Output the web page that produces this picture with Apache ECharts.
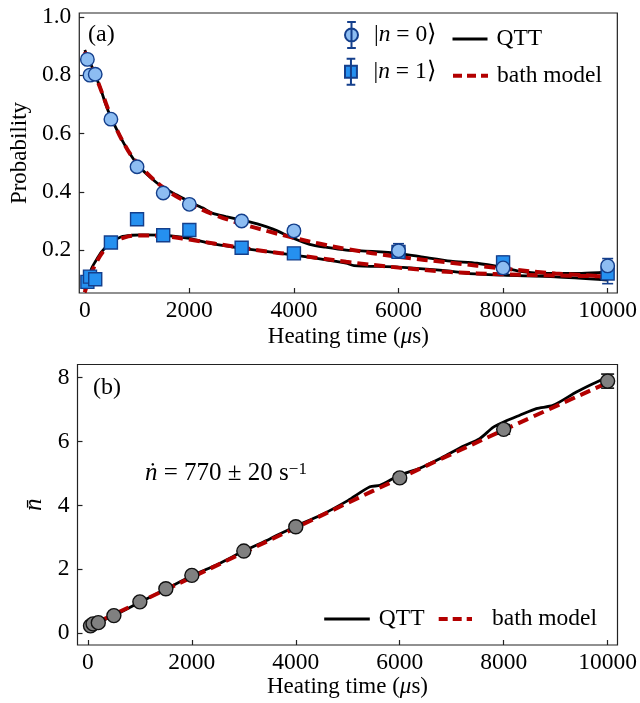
<!DOCTYPE html>
<html>
<head>
<meta charset="utf-8">
<script src="https://cdn.jsdelivr.net/npm/echarts@6/dist/echarts.min.js"></script>
<style>
  html, body { margin: 0; padding: 0; background: #fff; }
  #main { width: 640px; height: 703px; }
</style>
</head>
<body>
<div id="main"></div>
<script>
// panel (a): measured populations
var timeA = [50, 100, 200, 500, 1000, 1500, 2000, 3000, 4000, 6000, 8000, 10000];
var p0 = [0.854, 0.800, 0.803, 0.649, 0.486, 0.396, 0.357, 0.300, 0.266, 0.198, 0.139, 0.146];
var p0err = [0.012, 0.012, 0.012, 0.012, 0.012, 0.012, 0.014, 0.012, 0.016, 0.024, 0.02, 0.025];
var p1 = [0.091, 0.109, 0.100, 0.226, 0.306, 0.251, 0.269, 0.208, 0.189, 0.194, 0.158, 0.120];
var p1err = [0.012, 0.012, 0.012, 0.012, 0.012, 0.012, 0.014, 0.012, 0.012, 0.02, 0.021, 0.035];

// panel (a): model curves
var qtt0T = [0, 100, 200, 300, 400, 500, 750, 1000, 1250, 1500, 1750, 2000, 2250, 2450, 2700, 3000, 3300, 3600, 4000, 4300, 4600, 5000, 5500, 6000, 6500, 7000, 7500, 8000, 8300, 8600, 9000, 9500, 10000];
var qtt0 = [0.886, 0.845, 0.800, 0.755, 0.700, 0.655, 0.565, 0.495, 0.450, 0.415, 0.390, 0.366, 0.345, 0.326, 0.315, 0.303, 0.290, 0.272, 0.240, 0.220, 0.210, 0.200, 0.196, 0.189, 0.175, 0.162, 0.155, 0.140, 0.128, 0.122, 0.120, 0.120, 0.125];
var bath0T = [0, 100, 200, 350, 500, 750, 1000, 1500, 2000, 2500, 3000, 3500, 4000, 4500, 5000, 6000, 7000, 8000, 9000, 10000];
var bath0 = [0.880, 0.840, 0.800, 0.730, 0.660, 0.565, 0.500, 0.415, 0.360, 0.320, 0.290, 0.265, 0.242, 0.222, 0.204, 0.177, 0.157, 0.137, 0.120, 0.110];
var qtt1T = [0, 50, 130, 200, 320, 500, 700, 900, 1100, 1500, 2000, 2400, 2900, 3500, 4000, 4500, 5000, 5150, 6000, 7000, 7300, 8000, 9000, 10000];
var qtt1 = [0.063, 0.090, 0.137, 0.160, 0.194, 0.226, 0.246, 0.251, 0.252, 0.251, 0.240, 0.223, 0.209, 0.195, 0.183, 0.170, 0.155, 0.147, 0.142, 0.128, 0.120, 0.114, 0.108, 0.097];
var bath1T = [0, 100, 200, 350, 500, 750, 1000, 1500, 2000, 2500, 3000, 3500, 4000, 4500, 5000, 6000, 7000, 8000, 9000, 10000];
var bath1 = [0.055, 0.110, 0.150, 0.195, 0.222, 0.243, 0.250, 0.248, 0.236, 0.222, 0.208, 0.195, 0.184, 0.172, 0.160, 0.140, 0.125, 0.117, 0.113, 0.110];

// panel (b): mean phonon number
var timeB = [50, 100, 200, 500, 1000, 1500, 2000, 3000, 4000, 6000, 8000, 10000];
var nbar = [0.23, 0.29, 0.33, 0.55, 0.98, 1.39, 1.81, 2.57, 3.33, 4.86, 6.38, 7.89];
var nbarErr = [0.04, 0.04, 0.04, 0.04, 0.04, 0.04, 0.05, 0.05, 0.06, 0.12, 0.15, 0.22];
var qttBT = [0, 250, 500, 1000, 1500, 2000, 2500, 3000, 3500, 4000, 4466, 5000, 5427, 5619, 6000, 6386, 6642, 6899, 7219, 7539, 7795, 8000, 8309, 8629, 8950, 9399, 9718, 10000];
var qttB = [0.20, 0.37, 0.55, 0.97, 1.38, 1.80, 2.16, 2.57, 2.95, 3.35, 3.68, 4.15, 4.58, 4.63, 4.95, 5.16, 5.36, 5.57, 5.85, 6.09, 6.44, 6.61, 6.82, 7.03, 7.13, 7.55, 7.81, 8.02];
var bathBT = [0, 2000, 4000, 6000, 8000, 10000];
var bathB = [0.20, 1.75, 3.30, 4.85, 6.36, 7.84];

var xTicks = [0, 2000, 4000, 6000, 8000, 10000];
var yTicksA = [0.2, 0.4, 0.6, 0.8, 1.0];
var yTicksB = [0, 2, 4, 6, 8];

var FONT = 'Liberation Serif';
var RED = '#b30000';
var C0 = '#8dbdf2', C1 = '#2590f0', EDGE = '#143f8c';
var DASH = [11, 6];

function pairs(xs, ys) { return xs.map(function (x, i) { return [x, ys[i]]; }); }
function bars(xs, ys, es) { return xs.map(function (x, i) { return [x, ys[i] - es[i], ys[i] + es[i]]; }); }

function errRender(color, cap) {
  return function (params, api) {
    var a = api.coord([api.value(0), api.value(1)]);
    var b = api.coord([api.value(0), api.value(2)]);
    var st = { stroke: color, lineWidth: 1.6 };
    return { type: 'group', children: [
      { type: 'line', shape: { x1: a[0], y1: a[1], x2: b[0], y2: b[1] }, style: st },
      { type: 'line', shape: { x1: a[0] - cap, y1: a[1], x2: a[0] + cap, y2: a[1] }, style: st },
      { type: 'line', shape: { x1: b[0] - cap, y1: b[1], x2: b[0] + cap, y2: b[1] }, style: st }
    ] };
  };
}

function xAx(idx, min, max, gap) {
  return {
    type: 'value', gridIndex: idx, min: min, max: max,
    name: 'Heating time ({i|μ}s)', nameLocation: 'middle', nameGap: gap,
    nameTextStyle: { fontFamily: FONT, fontSize: 23, color: '#000', rich: { i: { fontFamily: FONT, fontSize: 23, fontStyle: 'italic', color: '#000' } } },
    axisLine: { show: false, onZero: false }, splitLine: { show: false },
    axisTick: { inside: true, length: 5, customValues: xTicks, lineStyle: { color: '#222', width: 1.2 } },
    axisLabel: { customValues: xTicks, margin: 6, fontFamily: FONT, fontSize: 23.5, color: '#000',
      formatter: function (v) { return String(v); } }
  };
}

var legText = { fontFamily: FONT, fontSize: 23.5, color: '#000', rich: { i: { fontFamily: FONT, fontSize: 23.5, fontStyle: 'italic', color: '#000' } } };
var errIcon = 'path://M5,0V24M1,0H9M1,24H9M5,6A6,6,0,1,1,5,18A6,6,0,1,1,5,6Z';
var errSq = 'path://M5,0V24M1,0H9M1,24H9M-0.5,6.5H10.5V17.5H-0.5Z';

function legend(name, left, top, w, h, pad, icon, line) {
  var l = {
    data: [name], left: left, top: top, itemWidth: w, itemHeight: h, padding: 0,
    selectedMode: false, textStyle: Object.assign({ padding: [0, 0, 0, pad] }, legText),
    formatter: function (n) {
      if (n === 'n0') return '|{i|n} = 0⟩';
      if (n === 'n1') return '|{i|n} = 1⟩';
      return n;
    }
  };
  if (icon) l.icon = icon;
  else { l.itemStyle = { opacity: 0 }; l.lineStyle = line; }
  return l;
}

var qttLeg = { width: 3, color: '#000', type: 'solid' };
var bathLeg = { width: 4, color: RED, type: [9, 5] };

var chart = echarts.init(document.getElementById('main'));
chart.setOption({
  animation: false,
  grid: [
    { left: 77.5, top: 13, width: 540.5, height: 280, show: true, borderColor: '#222', borderWidth: 1.2 },
    { left: 77.5, top: 364.5, width: 540.5, height: 280.5, show: true, borderColor: '#222', borderWidth: 1.2 }
  ],
  xAxis: [xAx(0, -105, 10185, 32), xAx(1, -200, 10190, 29)],
  yAxis: [
    {
      type: 'value', gridIndex: 0, min: 0.053, max: 1.013,
      name: 'Probability', nameLocation: 'middle', nameGap: 39, nameRotate: 90,
      nameTextStyle: { fontFamily: FONT, fontSize: 23, color: '#000' },
      axisLine: { show: false, onZero: false }, splitLine: { show: false },
      axisTick: { inside: true, length: 5, customValues: yTicksA, lineStyle: { color: '#222', width: 1.2 } },
      axisLabel: { customValues: yTicksA, margin: 8, fontFamily: FONT, fontSize: 23.5, color: '#000',
        formatter: function (v) { return v.toFixed(1); } }
    },
    {
      type: 'value', gridIndex: 1, min: -0.37, max: 8.41,
      name: 'n\u0304', nameLocation: 'middle', nameGap: 26, nameRotate: 90,
      nameTextStyle: { fontFamily: FONT, fontSize: 25, fontStyle: 'italic', color: '#000' },
      axisLine: { show: false, onZero: false }, splitLine: { show: false },
      axisTick: { inside: true, length: 5, customValues: yTicksB, lineStyle: { color: '#222', width: 1.2 } },
      axisLabel: { customValues: yTicksB, margin: 8, fontFamily: FONT, fontSize: 23.5, color: '#000' }
    }
  ],
  legend: [
    legend('n0', 344, 21, 13, 26, 11, errIcon),
    legend('n1', 344, 57.7, 13, 26, 11, errSq),
    legend('QTT', 451, 27, 35, 14, 4, null, qttLeg),
    legend('bath model', 451, 63.7, 35, 14, 4, null, bathLeg),
    legend('QTT', 322.7, 607, 45.6, 14, 4, null, qttLeg),
    legend('bath model', 436.7, 607, 33.3, 14, 15, null, bathLeg)
  ],
  graphic: [
    { type: 'text', left: 88, top: 23, style: { text: '(a)', fontFamily: FONT, fontSize: 24, fill: '#000' } },
    { type: 'text', left: 93, top: 376, style: { text: '(b)', fontFamily: FONT, fontSize: 24, fill: '#000' } },
    { type: 'text', left: 145, top: 461, style: {
      text: '{i|ṅ}{r| = 770 ± 20 s}{s|−1}', fill: '#000',
      rich: {
        i: { fontFamily: FONT, fontSize: 25, fontStyle: 'italic' },
        r: { fontFamily: FONT, fontSize: 25 },
        s: { fontFamily: FONT, fontSize: 17, verticalAlign: 'top' }
      } } }
  ],
  series: [
    { name: 'QTT', type: 'line', xAxisIndex: 0, yAxisIndex: 0, data: pairs(qtt0T, qtt0), symbol: 'none', smooth: 0.25,
      lineStyle: { color: '#000', width: 2.8 }, itemStyle: { color: '#000' }, z: 2 },
    { name: 'QTT', type: 'line', xAxisIndex: 0, yAxisIndex: 0, data: pairs(qtt1T, qtt1), symbol: 'none', smooth: 0.25,
      lineStyle: { color: '#000', width: 2.8 }, itemStyle: { color: '#000' }, z: 2 },
    { name: 'bath model', type: 'line', xAxisIndex: 0, yAxisIndex: 0, data: pairs(bath0T, bath0), symbol: 'none', smooth: 0.4,
      lineStyle: { color: RED, width: 4, type: DASH }, itemStyle: { color: RED }, z: 3 },
    { name: 'bath model', type: 'line', xAxisIndex: 0, yAxisIndex: 0, data: pairs(bath1T, bath1), symbol: 'none', smooth: 0.4,
      lineStyle: { color: RED, width: 4, type: DASH }, itemStyle: { color: RED }, z: 3 },
    { type: 'custom', xAxisIndex: 0, yAxisIndex: 0, data: bars(timeA, p0, p0err), renderItem: errRender(EDGE, 5.5),
      encode: { x: 0, y: [1, 2] }, z: 4, silent: true },
    { type: 'custom', xAxisIndex: 0, yAxisIndex: 0, data: bars(timeA, p1, p1err), renderItem: errRender(EDGE, 5.5),
      encode: { x: 0, y: [1, 2] }, z: 4, silent: true },
    { name: 'n1', type: 'scatter', xAxisIndex: 0, yAxisIndex: 0, data: pairs(timeA, p1), symbol: 'rect', symbolSize: 13,
      itemStyle: { color: C1, borderColor: EDGE, borderWidth: 1.4, opacity: 1 }, z: 5 },
    { name: 'n0', type: 'scatter', xAxisIndex: 0, yAxisIndex: 0, data: pairs(timeA, p0), symbol: 'circle', symbolSize: 13.5,
      itemStyle: { color: C0, borderColor: EDGE, borderWidth: 1.4, opacity: 1 }, z: 6 },

    { name: 'QTT', type: 'line', xAxisIndex: 1, yAxisIndex: 1, data: pairs(qttBT, qttB), symbol: 'none', smooth: 0.25,
      lineStyle: { color: '#000', width: 2.8 }, itemStyle: { color: '#000' }, z: 2 },
    { name: 'bath model', type: 'line', xAxisIndex: 1, yAxisIndex: 1, data: pairs(bathBT, bathB), symbol: 'none', smooth: 0.3,
      lineStyle: { color: RED, width: 4, type: DASH }, itemStyle: { color: RED }, z: 3 },
    { type: 'custom', xAxisIndex: 1, yAxisIndex: 1, data: bars(timeB, nbar, nbarErr), renderItem: errRender('#111', 6.5),
      encode: { x: 0, y: [1, 2] }, z: 4, silent: true },
    { type: 'scatter', xAxisIndex: 1, yAxisIndex: 1, data: pairs(timeB, nbar), symbol: 'circle', symbolSize: 14,
      itemStyle: { color: '#808080', borderColor: '#111', borderWidth: 1.4, opacity: 1 }, z: 5 }
  ]
});
</script>
</body>
</html>
